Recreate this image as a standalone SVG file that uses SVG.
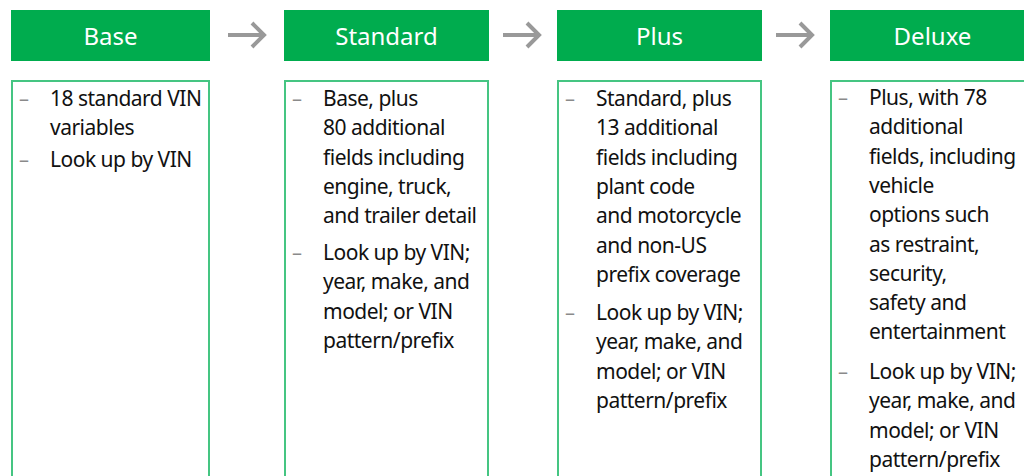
<svg xmlns="http://www.w3.org/2000/svg" width="1024" height="476" viewBox="0 0 1024 476">
<defs>
<style>
.hdr{fill:#00ac4e}
.hdt{font-family:"Noto Sans","Open Sans",sans-serif;font-size:24px;fill:#ffffff;text-anchor:middle}
.body{fill:#ffffff;stroke:#45c582;stroke-width:2}
.txt{font-family:"Noto Sans","Open Sans",sans-serif;font-size:21px;fill:#111111;letter-spacing:-0.5px}
.dash{font-family:"Noto Sans","Open Sans",sans-serif;font-size:20px;fill:#8a8a8a}
.arr{fill:none;stroke:#999999;stroke-width:4}
</style>
</defs>
<rect width="1024" height="476" fill="#ffffff"/>
<g id="connectors">
<path class="arr" d="M228 35H264M252 23L264 35L252 47"/>
<path class="arr" d="M503 35H539M527 23L539 35L527 47"/>
<path class="arr" d="M776 35H812M800 23L812 35L800 47"/>
</g>
<g id="base">
<rect class="hdr" x="11" y="10" width="199" height="51"/>
<text class="hdt" x="110.5" y="45">Base</text>
<rect class="body" x="12" y="81" width="197" height="420"/>
<text class="dash" x="19" y="106">–</text>
<text class="txt" x="50" y="106">18 standard VIN</text>
<text class="txt" x="50" y="134.5">variables</text>
<text class="dash" x="19" y="167">–</text>
<text class="txt" x="50" y="167">Look up by VIN</text>
</g>
<g id="standard">
<rect class="hdr" x="284" y="10" width="205" height="51"/>
<text class="hdt" x="386.5" y="45">Standard</text>
<rect class="body" x="285" y="81" width="203" height="420"/>
<text class="dash" x="292" y="106">–</text>
<text class="txt" x="323" y="106">Base, plus</text>
<text class="txt" x="323" y="135.3">80 additional</text>
<text class="txt" x="323" y="164.6">fields including</text>
<text class="txt" x="323" y="193.9">engine, truck,</text>
<text class="txt" x="323" y="223.2">and trailer detail</text>
<text class="dash" x="292" y="260">–</text>
<text class="txt" x="323" y="260">Look up by VIN;</text>
<text class="txt" x="323" y="289.3">year, make, and</text>
<text class="txt" x="323" y="318.6">model; or VIN</text>
<text class="txt" x="323" y="347.9">pattern/prefix</text>
</g>
<g id="plus">
<rect class="hdr" x="557" y="10" width="205" height="51"/>
<text class="hdt" x="659.5" y="45">Plus</text>
<rect class="body" x="558" y="81" width="203" height="420"/>
<text class="dash" x="565" y="106">–</text>
<text class="txt" x="596" y="106">Standard, plus</text>
<text class="txt" x="596" y="135.3">13 additional</text>
<text class="txt" x="596" y="164.6">fields including</text>
<text class="txt" x="596" y="193.9">plant code</text>
<text class="txt" x="596" y="223.2">and motorcycle</text>
<text class="txt" x="596" y="252.5">and non-US</text>
<text class="txt" x="596" y="281.8">prefix coverage</text>
<text class="dash" x="565" y="320">–</text>
<text class="txt" x="596" y="320">Look up by VIN;</text>
<text class="txt" x="596" y="349.3">year, make, and</text>
<text class="txt" x="596" y="378.6">model; or VIN</text>
<text class="txt" x="596" y="407.9">pattern/prefix</text>
</g>
<g id="deluxe">
<rect class="hdr" x="830" y="10" width="205" height="51"/>
<text class="hdt" x="932.5" y="45">Deluxe</text>
<rect class="body" x="831" y="81" width="203" height="420"/>
<text class="dash" x="838" y="105">–</text>
<text class="txt" x="869" y="105">Plus, with 78</text>
<text class="txt" x="869" y="134.3">additional</text>
<text class="txt" x="869" y="163.6">fields, including</text>
<text class="txt" x="869" y="192.9">vehicle</text>
<text class="txt" x="869" y="222.2">options such</text>
<text class="txt" x="869" y="251.5">as restraint,</text>
<text class="txt" x="869" y="280.8">security,</text>
<text class="txt" x="869" y="310.1">safety and</text>
<text class="txt" x="869" y="339.4">entertainment</text>
<text class="dash" x="838" y="379">–</text>
<text class="txt" x="869" y="379">Look up by VIN;</text>
<text class="txt" x="869" y="408.3">year, make, and</text>
<text class="txt" x="869" y="437.6">model; or VIN</text>
<text class="txt" x="869" y="466.9">pattern/prefix</text>
</g>
</svg>
